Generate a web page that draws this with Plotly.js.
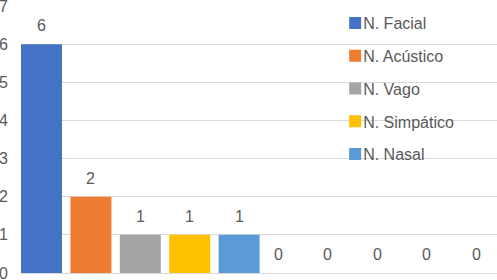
<!DOCTYPE html>
<html>
<head>
<meta charset="utf-8">
<script src="https://cdn.plot.ly/plotly-3.0.1.min.js"></script>
<style>html,body{margin:0;padding:0;background:#fff;}#chart{width:497px;height:280px;}</style>
</head>
<body>
<div id="chart"></div>
<script>
// Series shown as bars (one per position); only the first five appear in the legend
const seriesNames = ["N. Facial", "N. Acústico", "N. Vago", "N. Simpático", "N. Nasal", "Serie 6", "Serie 7", "Serie 8", "Serie 9", "Serie 10"];
const seriesValues = [6, 2, 1, 1, 1, 0, 0, 0, 0, 0];
const seriesColors = ["#4472C4", "#ED7D31", "#A5A5A5", "#FFC000", "#5B9BD5", "#70AD47", "#264478", "#9E480E", "#636363", "#997300"];
const legendShown = [true, true, true, true, true, false, false, false, false, false];
const yTicks = [0, 1, 2, 3, 4, 5, 6, 7];

const textColor = "#595959";
const traces = seriesNames.map((n, i) => ({
  type: "bar",
  name: n,
  x: [i],
  y: [seriesValues[i]],
  width: 0.83,
  marker: {color: seriesColors[i], line: {width: 0}},
  showlegend: legendShown[i],
  legendgroup: "g" + i,
  hoverinfo: "name+y"
}));

const annotations = seriesValues.map((v, i) => ({
  x: i, y: v, xref: "x", yref: "y",
  text: String(v), showarrow: false,
  yanchor: "bottom", yshift: 8,
  xshift: v === 0 ? -10 : 0,
  font: {family: "Liberation Sans, Arial, sans-serif", size: 16, color: textColor}
}));

const layout = {
  width: 497, height: 280,
  margin: {l: 21, r: 0, t: 6, b: 7, pad: 0},
  paper_bgcolor: "#fff", plot_bgcolor: "#fff",
  barmode: "overlay",
  font: {family: "Liberation Sans, Arial, sans-serif", size: 15, color: textColor},
  xaxis: {range: [-0.415, 9.22], showticklabels: false, showgrid: false, zeroline: false, showline: false, ticks: ""},
  yaxis: {range: [0, 7], tickvals: yTicks, ticktext: yTicks.map(String), showgrid: true, gridcolor: "#D9D9D9", gridwidth: 1,
          zeroline: true, zerolinecolor: "#D9D9D9", zerolinewidth: 1, showline: false, ticks: "", ticklabelstandoff: 12,
          ticklabeloverflow: "allow", tickfont: {size: 16, color: textColor}},
  showlegend: true,
  legend: {x: 0.66, xanchor: "left", y: 1, yanchor: "top", bgcolor: "rgba(0,0,0,0)", borderwidth: 0,
           font: {size: 16, color: textColor}, tracegroupgap: 9, itemwidth: 30, traceorder: "grouped"},
  annotations: annotations
};

Plotly.newPlot("chart", traces, layout, {displayModeBar: false, staticPlot: true}).then(gd => {
  // pull legend text closer to its colour square, as in the reference
  gd.querySelectorAll(".legendtext").forEach(t => t.setAttribute("x", "28"));
});
</script>
</body>
</html>
